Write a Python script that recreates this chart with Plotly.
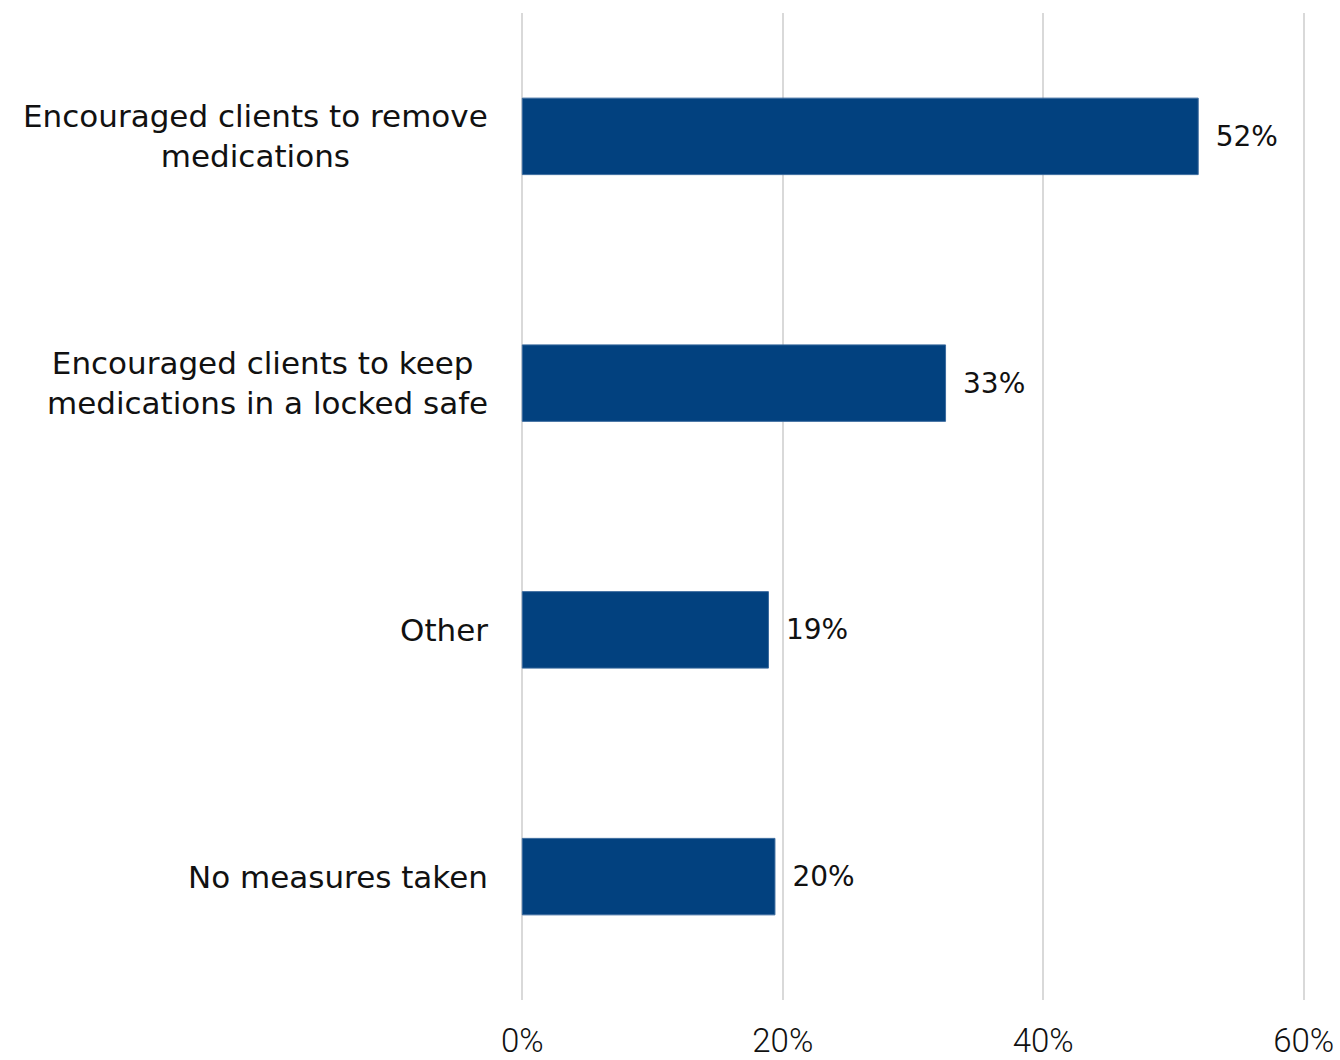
import plotly.graph_objects as go

categories = [
    "Encouraged clients to remove<br>medications",
    "Encouraged clients to keep <br>medications in a locked safe",
    "Other",
    "No measures taken",
]
values = [51.9, 32.5, 18.9, 19.4]
value_labels = ["52%", "33%", "19%", "20%"]
tick_vals = [0, 20, 40, 60]
tick_text = ["0%", "20%", "40%", "60%"]

BAR_COLOR = "#02417F"
LABEL_FONT = "DejaVu Sans"

fig = go.Figure()
fig.add_trace(go.Bar(
    y=categories,
    x=values,
    orientation="h",
    width=0.31,
    marker=dict(color=BAR_COLOR, line=dict(color="#3A6A9E", width=1)),
    text=value_labels,
    texttemplate=" \u2009%{text}",
    textposition="outside",
    textfont=dict(family=LABEL_FONT, size=28, color="#111111"),
    cliponaxis=False,
    hoverinfo="skip",
))

for c in categories:
    fig.add_annotation(
        x=0, xref="paper", y=c, yref="y",
        text=c, showarrow=False, xanchor="right", align="center",
        xshift=-31, font=dict(family=LABEL_FONT, size=31, color="#111111"),
    )

fig.update_layout(
    width=1340, height=1060,
    margin=dict(l=521, r=35, t=13, b=60, autoexpand=False),
    plot_bgcolor="white", paper_bgcolor="white",
    showlegend=False,
)
fig.update_xaxes(
    range=[-0.1, 60.1], tickvals=tick_vals, ticktext=tick_text,
    showgrid=True, gridcolor="#D9D9D9", gridwidth=2,
    zeroline=False, showline=False, automargin=False,
    tickfont=dict(family="Roboto", size=33, color="#111111", weight=300),
    ticklabelstandoff=18,
)
fig.update_yaxes(
    categoryorder="array", categoryarray=categories,
    range=[3.5, -0.5], showticklabels=False, showgrid=False, zeroline=False,
    automargin=False,
)

fig.write_html(
    "out.html",
    config={"displayModeBar": False},
    post_script="document.body.style.margin='0';document.body.style.overflow='hidden';",
)
